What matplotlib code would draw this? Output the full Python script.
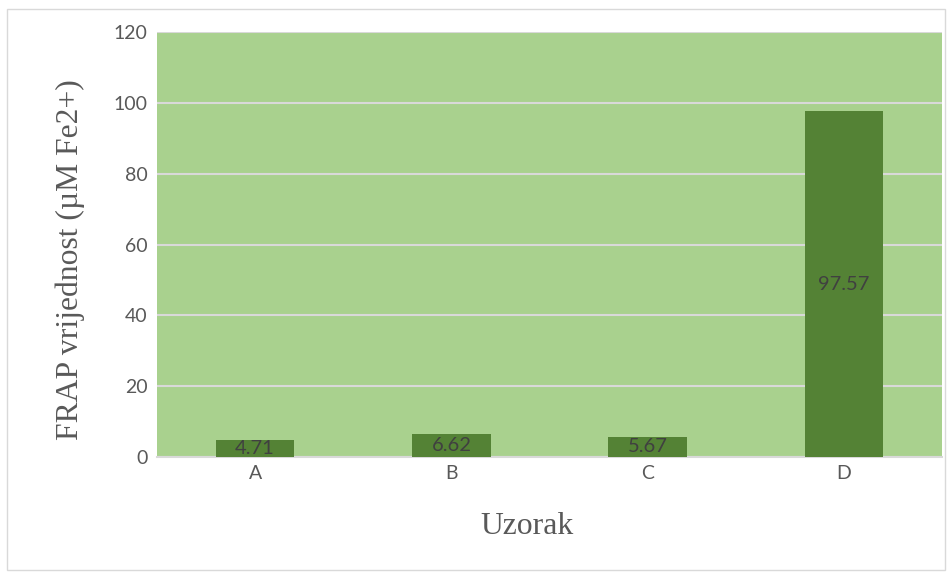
import matplotlib.pyplot as plt
from matplotlib.patches import Rectangle

categories = ["A", "B", "C", "D"]
values = [4.71, 6.62, 5.67, 97.57]
yticks = [0, 20, 40, 60, 80, 100, 120]

BG_GREEN = "#a9d18e"
BAR_GREEN = "#548235"
GRID = "#d9d9d9"
TEXT = "#595959"

W, H = 947, 576
fig = plt.figure(figsize=(W / 100, H / 100), dpi=100)
# outer chart border
fig.patches.append(Rectangle((7 / W, 6 / H), 938 / W, 561 / H,
                             transform=fig.transFigure, fill=False,
                             edgecolor="#d9d9d9", linewidth=1))

ax = fig.add_axes([157 / W, 1 - 457 / H, 785 / W, 425 / H])
ax.set_facecolor(BG_GREEN)

x = range(len(categories))
bars = ax.bar(x, values, width=0.4, color=BAR_GREEN, zorder=3)
for bar, val in zip(bars, values):
    ax.text(bar.get_x() + bar.get_width() / 2, val / 2, f"{val:.2f}",
            ha="center", va="center", fontsize=14.5, color="#404040",
            family="Lato", zorder=4)

ax.set_xlim(-0.5, len(categories) - 0.5)
ax.set_ylim(0, 120)
ax.set_yticks(yticks)
ax.set_xticks(list(x))
ax.set_xticklabels(categories)
ax.yaxis.grid(True, color=GRID, linewidth=1.5, zorder=1)
ax.set_axisbelow(True)

for side in ["left", "right", "top"]:
    ax.spines[side].set_visible(False)
ax.spines["bottom"].set_color(GRID)
ax.spines["bottom"].set_linewidth(1.5)
ax.spines["bottom"].set_zorder(2)

ax.tick_params(axis="both", length=0, labelsize=14, labelcolor=TEXT)
ax.tick_params(axis="x", pad=6)
ax.tick_params(axis="y", pad=7)
for lab in ax.get_xticklabels() + ax.get_yticklabels():
    lab.set_family("Lato")

# axis titles (placed like the original, slightly off-centre)
fig.text(527 / W, 1 - 527 / H, "Uzorak", family="Liberation Serif",
         fontsize=22.8, color=TEXT, ha="center", va="center")
fig.text(70 / W, 1 - 260 / H, "FRAP vrijednost (\u00b5M Fe2+)",
         family="Liberation Serif", fontsize=22.8, color=TEXT,
         rotation=90, ha="center", va="center")

fig.savefig("out.png", dpi=100)
